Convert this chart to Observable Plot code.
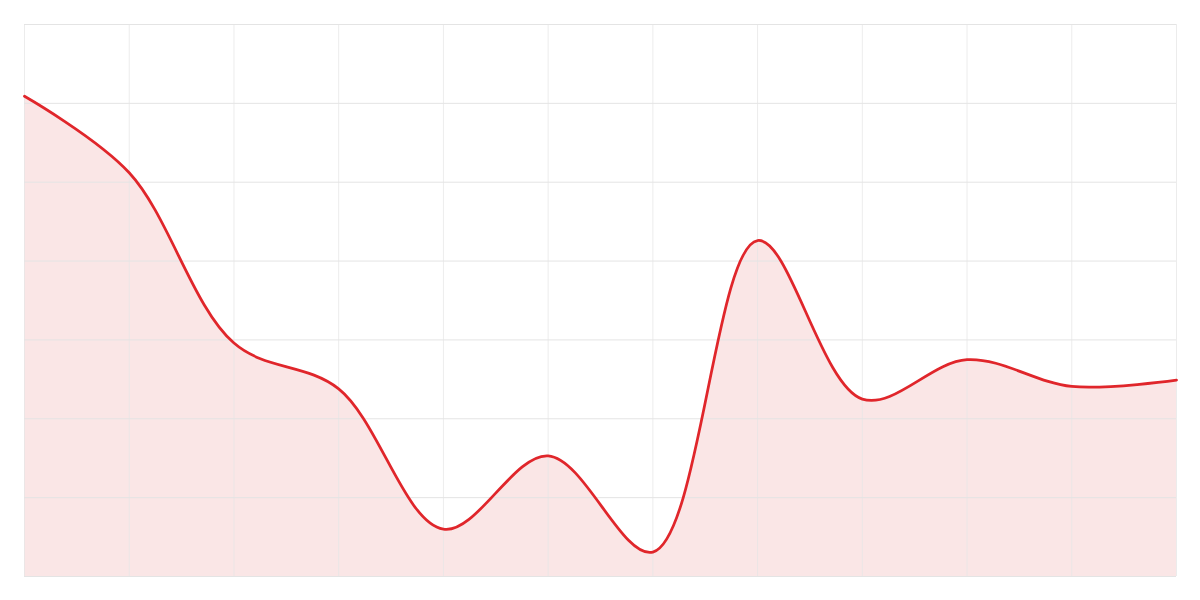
<!DOCTYPE html>
<html>
<head>
<meta charset="utf-8">
<script src="https://cdn.jsdelivr.net/npm/d3@7"></script>
<script src="https://cdn.jsdelivr.net/npm/@observablehq/plot@0.6"></script>
<style>
  html, body { margin: 0; padding: 0; background: #fff; }
  #chart { width: 1200px; height: 600px; }
</style>
</head>
<body>
<div id="chart"></div>
<script>
const xs = [0, 1, 2, 3, 4, 5, 6, 7, 8, 9, 10, 11];
const values = [6.09, 5.12, 2.96, 2.38, 0.60, 1.53, 0.31, 4.26, 2.25, 2.75, 2.41, 2.49];
const xTicks = [0, 1, 2, 3, 4, 5, 6, 7, 8, 9, 10, 11];
const yTicks = [0, 1, 2, 3, 4, 5, 6, 7];

const data = xs.map((x, i) => ({x, y: values[i]}));

const chart = Plot.plot({
  width: 1200,
  height: 600,
  marginTop: 24,
  marginRight: 24,
  marginBottom: 24,
  marginLeft: 24,
  x: {domain: [0, 11], axis: null},
  y: {domain: [0, 7], axis: null},
  marks: [
    Plot.areaY(data, {x: "x", y: "y", curve: "catmull-rom", fill: "#dc3c3c", fillOpacity: 0.13}),
    Plot.ruleX(xTicks, {stroke: "#e6e6e6", strokeOpacity: 0.75}),
    Plot.ruleY(yTicks, {stroke: "#e4e4e4"}),
    Plot.lineY(data, {x: "x", y: "y", curve: "catmull-rom", stroke: "#e0262b", strokeWidth: 2.75})
  ]
});
document.getElementById("chart").appendChild(chart);
</script>
</body>
</html>
